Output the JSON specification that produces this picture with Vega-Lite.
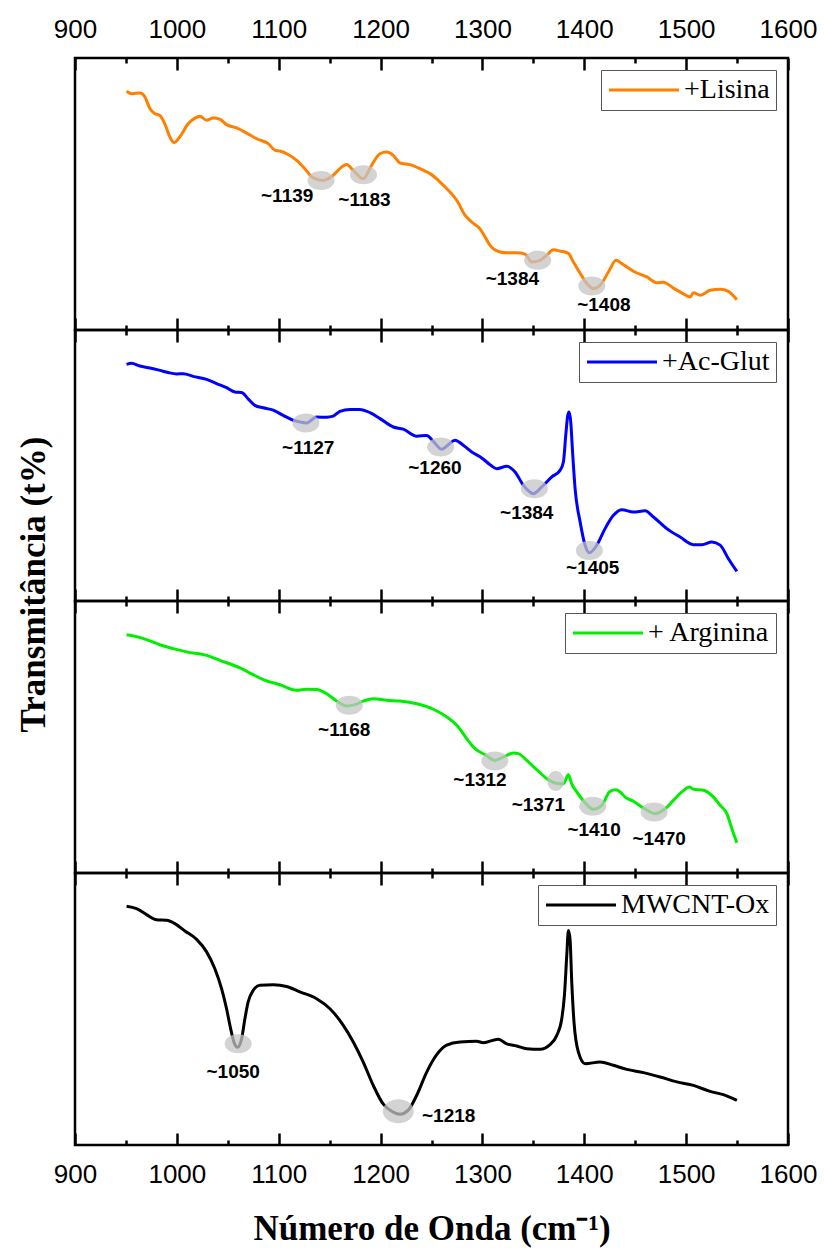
{
  "$schema": "https://vega.github.io/schema/vega-lite/v6.json",
  "background": "white",
  "padding": {"left": 14, "top": 14, "right": 5, "bottom": 5},
  "bounds": "flush",
  "datasets": {
    "lis": [
      {"s":"+Lisina","x":950.6,"y":87.8},{"s":"+Lisina","x":955.5,"y":86.9},{"s":"+Lisina","x":963.7,"y":87.1},{"s":"+Lisina","x":968.6,"y":85.7},{"s":"+Lisina","x":973.5,"y":81.4},{"s":"+Lisina","x":978.4,"y":79.5},{"s":"+Lisina","x":983.3,"y":78.9},{"s":"+Lisina","x":988.2,"y":75.8},{"s":"+Lisina","x":993.1,"y":71.0},{"s":"+Lisina","x":997.3,"y":68.9},{"s":"+Lisina","x":1002.9,"y":71.0},{"s":"+Lisina","x":1011.1,"y":75.8},{"s":"+Lisina","x":1017.7,"y":77.9},{"s":"+Lisina","x":1022.6,"y":78.6},{"s":"+Lisina","x":1029.2,"y":77.1},{"s":"+Lisina","x":1035.7,"y":77.9},{"s":"+Lisina","x":1042.2,"y":77.5},{"s":"+Lisina","x":1048.8,"y":75.5},{"s":"+Lisina","x":1058.6,"y":74.3},{"s":"+Lisina","x":1068.5,"y":72.4},{"s":"+Lisina","x":1078.3,"y":70.3},{"s":"+Lisina","x":1089.7,"y":68.5},{"s":"+Lisina","x":1096.3,"y":66.1},{"s":"+Lisina","x":1101.2,"y":65.8},{"s":"+Lisina","x":1107.8,"y":64.8},{"s":"+Lisina","x":1117.6,"y":62.4},{"s":"+Lisina","x":1125.7,"y":59.3},{"s":"+Lisina","x":1133.9,"y":55.9},{"s":"+Lisina","x":1143.7,"y":55.0},{"s":"+Lisina","x":1153.5,"y":56.9},{"s":"+Lisina","x":1161.8,"y":59.9},{"s":"+Lisina","x":1166.7,"y":60.8},{"s":"+Lisina","x":1173.2,"y":58.7},{"s":"+Lisina","x":1183.0,"y":55.6},{"s":"+Lisina","x":1191.3,"y":60.6},{"s":"+Lisina","x":1199.4,"y":64.8},{"s":"+Lisina","x":1206.0,"y":65.4},{"s":"+Lisina","x":1212.5,"y":64.2},{"s":"+Lisina","x":1219.1,"y":61.4},{"s":"+Lisina","x":1228.8,"y":60.8},{"s":"+Lisina","x":1238.7,"y":59.3},{"s":"+Lisina","x":1245.3,"y":58.1},{"s":"+Lisina","x":1248.5,"y":57.5},{"s":"+Lisina","x":1258.4,"y":54.4},{"s":"+Lisina","x":1266.5,"y":51.4},{"s":"+Lisina","x":1274.8,"y":47.7},{"s":"+Lisina","x":1282.9,"y":42.2},{"s":"+Lisina","x":1289.5,"y":39.7},{"s":"+Lisina","x":1297.6,"y":37.2},{"s":"+Lisina","x":1302.6,"y":34.2},{"s":"+Lisina","x":1307.5,"y":31.1},{"s":"+Lisina","x":1317.3,"y":28.7},{"s":"+Lisina","x":1323.9,"y":28.4},{"s":"+Lisina","x":1333.7,"y":28.4},{"s":"+Lisina","x":1341.9,"y":27.9},{"s":"+Lisina","x":1348.4,"y":25.0},{"s":"+Lisina","x":1356.6,"y":25.6},{"s":"+Lisina","x":1363.2,"y":27.5},{"s":"+Lisina","x":1369.6,"y":29.5},{"s":"+Lisina","x":1376.2,"y":29.0},{"s":"+Lisina","x":1384.4,"y":28.2},{"s":"+Lisina","x":1389.3,"y":25.0},{"s":"+Lisina","x":1397.5,"y":19.9},{"s":"+Lisina","x":1404.0,"y":16.4},{"s":"+Lisina","x":1408.9,"y":15.2},{"s":"+Lisina","x":1415.5,"y":16.4},{"s":"+Lisina","x":1423.7,"y":21.3},{"s":"+Lisina","x":1431.2,"y":25.6},{"s":"+Lisina","x":1436.8,"y":24.4},{"s":"+Lisina","x":1448.2,"y":21.6},{"s":"+Lisina","x":1461.4,"y":19.5},{"s":"+Lisina","x":1471.2,"y":17.4},{"s":"+Lisina","x":1477.7,"y":17.6},{"s":"+Lisina","x":1487.5,"y":15.4},{"s":"+Lisina","x":1497.3,"y":13.3},{"s":"+Lisina","x":1503.9,"y":12.1},{"s":"+Lisina","x":1507.2,"y":13.7},{"s":"+Lisina","x":1513.8,"y":12.8},{"s":"+Lisina","x":1523.6,"y":14.6},{"s":"+Lisina","x":1533.4,"y":15.0},{"s":"+Lisina","x":1541.5,"y":14.2},{"s":"+Lisina","x":1549.8,"y":11.1}
    ],
    "acg": [
      {"s":"+Ac-Glut","x":950.6,"y":87.3},{"s":"+Ac-Glut","x":955.5,"y":87.7},{"s":"+Ac-Glut","x":963.7,"y":86.7},{"s":"+Ac-Glut","x":973.5,"y":86.0},{"s":"+Ac-Glut","x":983.3,"y":85.1},{"s":"+Ac-Glut","x":991.5,"y":84.3},{"s":"+Ac-Glut","x":999.7,"y":83.8},{"s":"+Ac-Glut","x":1006.2,"y":83.9},{"s":"+Ac-Glut","x":1016.0,"y":82.9},{"s":"+Ac-Glut","x":1029.2,"y":81.8},{"s":"+Ac-Glut","x":1039.0,"y":80.2},{"s":"+Ac-Glut","x":1048.8,"y":78.7},{"s":"+Ac-Glut","x":1057.0,"y":77.1},{"s":"+Ac-Glut","x":1063.6,"y":76.9},{"s":"+Ac-Glut","x":1070.0,"y":74.6},{"s":"+Ac-Glut","x":1076.6,"y":72.2},{"s":"+Ac-Glut","x":1084.8,"y":71.3},{"s":"+Ac-Glut","x":1094.6,"y":70.4},{"s":"+Ac-Glut","x":1104.4,"y":68.5},{"s":"+Ac-Glut","x":1114.2,"y":66.7},{"s":"+Ac-Glut","x":1120.8,"y":66.1},{"s":"+Ac-Glut","x":1127.4,"y":65.7},{"s":"+Ac-Glut","x":1137.2,"y":67.9},{"s":"+Ac-Glut","x":1147.1,"y":67.8},{"s":"+Ac-Glut","x":1153.5,"y":68.2},{"s":"+Ac-Glut","x":1160.1,"y":70.0},{"s":"+Ac-Glut","x":1169.9,"y":70.7},{"s":"+Ac-Glut","x":1179.7,"y":70.7},{"s":"+Ac-Glut","x":1189.6,"y":69.5},{"s":"+Ac-Glut","x":1199.4,"y":67.3},{"s":"+Ac-Glut","x":1212.5,"y":64.2},{"s":"+Ac-Glut","x":1222.3,"y":63.4},{"s":"+Ac-Glut","x":1235.5,"y":60.8},{"s":"+Ac-Glut","x":1245.3,"y":61.1},{"s":"+Ac-Glut","x":1251.8,"y":58.9},{"s":"+Ac-Glut","x":1260.0,"y":56.0},{"s":"+Ac-Glut","x":1266.5,"y":57.7},{"s":"+Ac-Glut","x":1273.1,"y":59.3},{"s":"+Ac-Glut","x":1281.2,"y":57.5},{"s":"+Ac-Glut","x":1289.5,"y":55.0},{"s":"+Ac-Glut","x":1299.3,"y":52.8},{"s":"+Ac-Glut","x":1307.5,"y":50.3},{"s":"+Ac-Glut","x":1314.0,"y":48.8},{"s":"+Ac-Glut","x":1323.9,"y":49.7},{"s":"+Ac-Glut","x":1332.0,"y":47.6},{"s":"+Ac-Glut","x":1340.2,"y":42.7},{"s":"+Ac-Glut","x":1350.0,"y":39.6},{"s":"+Ac-Glut","x":1358.3,"y":42.1},{"s":"+Ac-Glut","x":1368.1,"y":45.8},{"s":"+Ac-Glut","x":1376.2,"y":48.2},{"s":"+Ac-Glut","x":1379.5,"y":51.3},{"s":"+Ac-Glut","x":1381.8,"y":61.1},{"s":"+Ac-Glut","x":1383.8,"y":68.5},{"s":"+Ac-Glut","x":1385.1,"y":69.7},{"s":"+Ac-Glut","x":1386.7,"y":66.1},{"s":"+Ac-Glut","x":1388.3,"y":56.2},{"s":"+Ac-Glut","x":1391.0,"y":41.4},{"s":"+Ac-Glut","x":1395.9,"y":29.2},{"s":"+Ac-Glut","x":1400.8,"y":20.6},{"s":"+Ac-Glut","x":1405.0,"y":17.8},{"s":"+Ac-Glut","x":1412.3,"y":20.6},{"s":"+Ac-Glut","x":1420.4,"y":26.7},{"s":"+Ac-Glut","x":1428.6,"y":31.6},{"s":"+Ac-Glut","x":1436.8,"y":33.7},{"s":"+Ac-Glut","x":1448.2,"y":32.8},{"s":"+Ac-Glut","x":1459.7,"y":33.3},{"s":"+Ac-Glut","x":1467.9,"y":31.0},{"s":"+Ac-Glut","x":1481.0,"y":26.7},{"s":"+Ac-Glut","x":1494.1,"y":23.6},{"s":"+Ac-Glut","x":1507.2,"y":20.8},{"s":"+Ac-Glut","x":1515.4,"y":20.8},{"s":"+Ac-Glut","x":1525.2,"y":21.8},{"s":"+Ac-Glut","x":1533.4,"y":20.6},{"s":"+Ac-Glut","x":1541.5,"y":15.6},{"s":"+Ac-Glut","x":1549.8,"y":10.9}
    ],
    "arg": [
      {"s":"+ Arginina","x":950.6,"y":87.6},{"s":"+ Arginina","x":960.4,"y":86.9},{"s":"+ Arginina","x":970.2,"y":85.8},{"s":"+ Arginina","x":983.3,"y":83.9},{"s":"+ Arginina","x":996.4,"y":82.5},{"s":"+ Arginina","x":1009.5,"y":81.3},{"s":"+ Arginina","x":1029.2,"y":80.0},{"s":"+ Arginina","x":1042.2,"y":78.2},{"s":"+ Arginina","x":1061.9,"y":75.4},{"s":"+ Arginina","x":1074.9,"y":72.9},{"s":"+ Arginina","x":1084.8,"y":71.1},{"s":"+ Arginina","x":1101.2,"y":69.2},{"s":"+ Arginina","x":1117.6,"y":67.2},{"s":"+ Arginina","x":1127.4,"y":67.6},{"s":"+ Arginina","x":1137.2,"y":67.5},{"s":"+ Arginina","x":1147.1,"y":65.9},{"s":"+ Arginina","x":1156.9,"y":63.2},{"s":"+ Arginina","x":1166.7,"y":61.4},{"s":"+ Arginina","x":1174.9,"y":61.9},{"s":"+ Arginina","x":1183.0,"y":63.2},{"s":"+ Arginina","x":1192.8,"y":64.1},{"s":"+ Arginina","x":1206.0,"y":63.5},{"s":"+ Arginina","x":1219.1,"y":63.2},{"s":"+ Arginina","x":1235.5,"y":62.2},{"s":"+ Arginina","x":1251.8,"y":60.2},{"s":"+ Arginina","x":1264.9,"y":57.4},{"s":"+ Arginina","x":1276.3,"y":53.7},{"s":"+ Arginina","x":1284.6,"y":49.4},{"s":"+ Arginina","x":1292.7,"y":45.7},{"s":"+ Arginina","x":1302.6,"y":43.5},{"s":"+ Arginina","x":1312.4,"y":41.4},{"s":"+ Arginina","x":1320.5,"y":42.6},{"s":"+ Arginina","x":1330.4,"y":44.1},{"s":"+ Arginina","x":1335.3,"y":43.9},{"s":"+ Arginina","x":1343.5,"y":41.4},{"s":"+ Arginina","x":1353.3,"y":38.0},{"s":"+ Arginina","x":1363.2,"y":34.7},{"s":"+ Arginina","x":1371.3,"y":33.1},{"s":"+ Arginina","x":1379.5,"y":32.8},{"s":"+ Arginina","x":1384.4,"y":36.1},{"s":"+ Arginina","x":1387.7,"y":32.8},{"s":"+ Arginina","x":1392.6,"y":29.8},{"s":"+ Arginina","x":1400.8,"y":25.8},{"s":"+ Arginina","x":1408.9,"y":23.4},{"s":"+ Arginina","x":1417.2,"y":24.9},{"s":"+ Arginina","x":1425.3,"y":30.0},{"s":"+ Arginina","x":1431.2,"y":30.6},{"s":"+ Arginina","x":1435.2,"y":29.8},{"s":"+ Arginina","x":1440.1,"y":27.9},{"s":"+ Arginina","x":1448.2,"y":26.4},{"s":"+ Arginina","x":1458.1,"y":23.9},{"s":"+ Arginina","x":1469.5,"y":21.8},{"s":"+ Arginina","x":1479.3,"y":23.6},{"s":"+ Arginina","x":1487.5,"y":26.7},{"s":"+ Arginina","x":1495.8,"y":29.8},{"s":"+ Arginina","x":1503.2,"y":31.6},{"s":"+ Arginina","x":1507.2,"y":30.8},{"s":"+ Arginina","x":1517.0,"y":30.4},{"s":"+ Arginina","x":1526.8,"y":27.9},{"s":"+ Arginina","x":1533.4,"y":24.9},{"s":"+ Arginina","x":1540.0,"y":21.8},{"s":"+ Arginina","x":1544.9,"y":16.3},{"s":"+ Arginina","x":1549.8,"y":11.1}
    ],
    "mw": [
      {"s":"MWCNT-Ox","x":950.6,"y":87.8},{"s":"MWCNT-Ox","x":960.4,"y":86.9},{"s":"MWCNT-Ox","x":970.2,"y":84.7},{"s":"MWCNT-Ox","x":980.1,"y":82.8},{"s":"MWCNT-Ox","x":989.9,"y":82.6},{"s":"MWCNT-Ox","x":998.0,"y":81.4},{"s":"MWCNT-Ox","x":1007.9,"y":78.7},{"s":"MWCNT-Ox","x":1019.4,"y":75.6},{"s":"MWCNT-Ox","x":1029.2,"y":71.0},{"s":"MWCNT-Ox","x":1037.3,"y":64.8},{"s":"MWCNT-Ox","x":1043.9,"y":57.5},{"s":"MWCNT-Ox","x":1048.8,"y":50.1},{"s":"MWCNT-Ox","x":1052.8,"y":42.8},{"s":"MWCNT-Ox","x":1056.0,"y":37.9},{"s":"MWCNT-Ox","x":1059.6,"y":35.9},{"s":"MWCNT-Ox","x":1063.6,"y":39.1},{"s":"MWCNT-Ox","x":1066.8,"y":46.4},{"s":"MWCNT-Ox","x":1070.0,"y":52.6},{"s":"MWCNT-Ox","x":1075.0,"y":56.9},{"s":"MWCNT-Ox","x":1081.5,"y":58.7},{"s":"MWCNT-Ox","x":1094.6,"y":58.9},{"s":"MWCNT-Ox","x":1107.8,"y":58.3},{"s":"MWCNT-Ox","x":1120.8,"y":56.3},{"s":"MWCNT-Ox","x":1137.2,"y":53.8},{"s":"MWCNT-Ox","x":1150.3,"y":50.1},{"s":"MWCNT-Ox","x":1163.4,"y":44.0},{"s":"MWCNT-Ox","x":1173.2,"y":37.9},{"s":"MWCNT-Ox","x":1183.0,"y":30.5},{"s":"MWCNT-Ox","x":1192.8,"y":21.9},{"s":"MWCNT-Ox","x":1202.7,"y":15.0},{"s":"MWCNT-Ox","x":1210.9,"y":12.4},{"s":"MWCNT-Ox","x":1219.1,"y":11.3},{"s":"MWCNT-Ox","x":1227.2,"y":12.8},{"s":"MWCNT-Ox","x":1235.5,"y":18.3},{"s":"MWCNT-Ox","x":1245.3,"y":26.8},{"s":"MWCNT-Ox","x":1255.1,"y":33.2},{"s":"MWCNT-Ox","x":1264.9,"y":36.7},{"s":"MWCNT-Ox","x":1278.0,"y":37.9},{"s":"MWCNT-Ox","x":1294.4,"y":38.1},{"s":"MWCNT-Ox","x":1300.9,"y":37.6},{"s":"MWCNT-Ox","x":1315.6,"y":38.9},{"s":"MWCNT-Ox","x":1323.9,"y":37.2},{"s":"MWCNT-Ox","x":1333.7,"y":36.4},{"s":"MWCNT-Ox","x":1343.5,"y":35.4},{"s":"MWCNT-Ox","x":1356.6,"y":35.2},{"s":"MWCNT-Ox","x":1366.4,"y":36.9},{"s":"MWCNT-Ox","x":1373.0,"y":40.3},{"s":"MWCNT-Ox","x":1377.9,"y":46.4},{"s":"MWCNT-Ox","x":1380.5,"y":55.0},{"s":"MWCNT-Ox","x":1382.8,"y":69.7},{"s":"MWCNT-Ox","x":1384.4,"y":78.9},{"s":"MWCNT-Ox","x":1386.0,"y":75.8},{"s":"MWCNT-Ox","x":1387.7,"y":59.9},{"s":"MWCNT-Ox","x":1389.9,"y":45.2},{"s":"MWCNT-Ox","x":1394.2,"y":34.2},{"s":"MWCNT-Ox","x":1400.8,"y":29.9},{"s":"MWCNT-Ox","x":1415.5,"y":30.5},{"s":"MWCNT-Ox","x":1428.6,"y":29.3},{"s":"MWCNT-Ox","x":1441.7,"y":27.8},{"s":"MWCNT-Ox","x":1458.1,"y":26.6},{"s":"MWCNT-Ox","x":1474.5,"y":25.0},{"s":"MWCNT-Ox","x":1490.9,"y":23.2},{"s":"MWCNT-Ox","x":1507.2,"y":21.9},{"s":"MWCNT-Ox","x":1523.6,"y":19.7},{"s":"MWCNT-Ox","x":1536.6,"y":18.5},{"s":"MWCNT-Ox","x":1549.8,"y":16.4}
    ],
    "ann": [
      {"p":"L","x":1141.6,"y":55.0,"k":"n","t":"~1139","lx":1108.3,"ly":49.3},
      {"p":"L","x":1183.2,"y":57.1,"k":"n","t":"~1183","lx":1184.2,"ly":47.9},
      {"p":"L","x":1354.3,"y":25.6,"k":"n","t":"~1384","lx":1329.4,"ly":18.9},
      {"p":"L","x":1407.4,"y":16.2,"k":"n","t":"~1408","lx":1419.2,"ly":9.3},
      {"p":"A","x":1126.7,"y":65.7,"k":"n","t":"~1127","lx":1129.0,"ly":56.5},
      {"p":"A","x":1259.0,"y":56.8,"k":"n","t":"~1260","lx":1253.4,"ly":49.1},
      {"p":"A","x":1351.0,"y":41.4,"k":"n","t":"~1384","lx":1343.5,"ly":32.5},
      {"p":"A","x":1405.0,"y":18.6,"k":"n","t":"~1405","lx":1408.3,"ly":12.2},
      {"p":"R","x":1169.3,"y":61.7,"k":"n","t":"~1168","lx":1164.3,"ly":52.7},
      {"p":"R","x":1312.2,"y":41.2,"k":"n","t":"~1312","lx":1297.6,"ly":34.3},
      {"p":"R","x":1372.0,"y":33.8,"k":"s","t":"~1371","lx":1354.9,"ly":24.9},
      {"p":"R","x":1408.3,"y":24.5,"k":"n","t":"~1410","lx":1409.6,"ly":15.9},
      {"p":"R","x":1468.6,"y":22.4,"k":"n","t":"~1470","lx":1473.5,"ly":12.6},
      {"p":"M","x":1060.2,"y":37.2,"k":"n","t":"~1050","lx":1055.3,"ly":26.8},
      {"p":"M","x":1217.4,"y":12.4,"k":"l","t":"~1218","lx":1266.9,"ly":10.7}
    ]
  },
  "vconcat": [
    {
      "width": 713, "height": 272,
      "layer": [
        {"data": {"name": "lis"}, "mark": {"type": "line", "strokeWidth": 3, "interpolate": "monotone"},
         "encoding": {
           "x": {"field": "x", "type": "quantitative", "scale": {"domain": [900, 1600], "nice": false, "zero": false}, "axis": {"orient": "bottom", "values": [900,1000,1100,1200,1300,1400,1500,1600], "tickSize": -12, "labels": false, "title": null}},
           "y": {"field": "y", "type": "quantitative", "scale": {"domain": [0, 100]}, "axis": null},
           "color": {"field": "s", "type": "nominal", "scale": {"domain": ["+Lisina"], "range": ["#FF8000"]}, "legend": {"title": null}}
         }},
        {"data": {"name": "ann"}, "transform": [{"filter": "datum.p == 'L'"}], "mark": {"type": "point", "filled": true, "color": "#C4C4C4", "opacity": 0.75, "size": 4, "strokeWidth": 0},
         "encoding": {
           "x": {"field": "x", "type": "quantitative", "scale": {"domain": [900, 1600], "nice": false, "zero": false}, "axis": {"orient": "bottom", "values": [950,1050,1150,1250,1350,1450,1550], "tickSize": -5, "labels": false, "title": null}},
           "y": {"field": "y", "type": "quantitative", "scale": {"domain": [0, 100]}, "axis": null},
           "shape": {"field": "k", "type": "nominal", "scale": {"domain": ["n","s","l"], "range": ["M-13.5,0A13.5,9.5 0 1,1 13.5,0A13.5,9.5 0 1,1 -13.5,0Z", "M-8.5,0A8.5,10 0 1,1 8.5,0A8.5,10 0 1,1 -8.5,0Z", "M-15.5,0A15.5,12 0 1,1 15.5,0A15.5,12 0 1,1 -15.5,0Z"]}, "legend": null}
         }},
        {"data": {"name": "ann"}, "transform": [{"filter": "datum.p == 'L'"}], "mark": {"type": "text", "font": "Liberation Sans", "fontWeight": "bold", "fontSize": 19, "color": "black", "align": "center", "baseline": "middle"},
         "encoding": {
           "x": {"field": "lx", "type": "quantitative", "scale": {"domain": [900, 1600], "nice": false, "zero": false}, "axis": {"orient": "top", "values": [900,1000,1100,1200,1300,1400,1500,1600], "tickSize": -12, "labels": true, "format": "d", "title": null}},
           "y": {"field": "ly", "type": "quantitative", "scale": {"domain": [0, 100]}, "axis": null},
           "text": {"field": "t"}
         }},
        {"data": {"name": "ann"}, "transform": [{"filter": "datum.p == 'L'"}], "mark": {"type": "point", "opacity": 0},
         "encoding": {
           "x": {"field": "x", "type": "quantitative", "scale": {"domain": [900, 1600], "nice": false, "zero": false}, "axis": {"orient": "top", "values": [950,1050,1150,1250,1350,1450,1550], "tickSize": -5, "labels": false, "title": null}},
           "y": {"field": "y", "type": "quantitative", "scale": {"domain": [0, 100]}, "axis": null}
         }}
      ],
      "resolve": {"axis": {"x": "independent", "y": "independent"}}
    },
    {
      "width": 713, "height": 271,
      "layer": [
        {"data": {"name": "acg"}, "mark": {"type": "line", "strokeWidth": 3, "interpolate": "monotone"},
         "encoding": {
           "x": {"field": "x", "type": "quantitative", "scale": {"domain": [900, 1600], "nice": false, "zero": false}, "axis": {"orient": "bottom", "values": [900,1000,1100,1200,1300,1400,1500,1600], "tickSize": -12, "labels": false, "title": null}},
           "y": {"field": "y", "type": "quantitative", "scale": {"domain": [0, 100]}, "axis": {"orient": "left", "domain": false, "ticks": false, "labels": false, "grid": false, "title": "Transmitância (t%)", "titleX": -42, "titleY": 254, "titleAngle": -90, "titleBaseline": "middle", "titleAlign": "center"}},
           "color": {"field": "s", "type": "nominal", "scale": {"domain": ["+Ac-Glut"], "range": ["#0000FF"]}, "legend": {"title": null}}
         }},
        {"data": {"name": "ann"}, "transform": [{"filter": "datum.p == 'A'"}], "mark": {"type": "point", "filled": true, "color": "#C4C4C4", "opacity": 0.75, "size": 4, "strokeWidth": 0},
         "encoding": {
           "x": {"field": "x", "type": "quantitative", "scale": {"domain": [900, 1600], "nice": false, "zero": false}, "axis": {"orient": "bottom", "values": [950,1050,1150,1250,1350,1450,1550], "tickSize": -5, "labels": false, "title": null}},
           "y": {"field": "y", "type": "quantitative", "scale": {"domain": [0, 100]}, "axis": null},
           "shape": {"field": "k", "type": "nominal", "scale": {"domain": ["n","s","l"], "range": ["M-13.5,0A13.5,9.5 0 1,1 13.5,0A13.5,9.5 0 1,1 -13.5,0Z", "M-8.5,0A8.5,10 0 1,1 8.5,0A8.5,10 0 1,1 -8.5,0Z", "M-15.5,0A15.5,12 0 1,1 15.5,0A15.5,12 0 1,1 -15.5,0Z"]}, "legend": null}
         }},
        {"data": {"name": "ann"}, "transform": [{"filter": "datum.p == 'A'"}], "mark": {"type": "text", "font": "Liberation Sans", "fontWeight": "bold", "fontSize": 19, "color": "black", "align": "center", "baseline": "middle"},
         "encoding": {
           "x": {"field": "lx", "type": "quantitative", "scale": {"domain": [900, 1600], "nice": false, "zero": false}, "axis": {"orient": "top", "values": [900,1000,1100,1200,1300,1400,1500,1600], "tickSize": -12, "labels": false, "title": null}},
           "y": {"field": "ly", "type": "quantitative", "scale": {"domain": [0, 100]}, "axis": null},
           "text": {"field": "t"}
         }},
        {"data": {"name": "ann"}, "transform": [{"filter": "datum.p == 'A'"}], "mark": {"type": "point", "opacity": 0},
         "encoding": {
           "x": {"field": "x", "type": "quantitative", "scale": {"domain": [900, 1600], "nice": false, "zero": false}, "axis": {"orient": "top", "values": [950,1050,1150,1250,1350,1450,1550], "tickSize": -5, "labels": false, "title": null}},
           "y": {"field": "y", "type": "quantitative", "scale": {"domain": [0, 100]}, "axis": null}
         }}
      ],
      "resolve": {"axis": {"x": "independent", "y": "independent"}}
    },
    {
      "width": 713, "height": 272,
      "layer": [
        {"data": {"name": "arg"}, "mark": {"type": "line", "strokeWidth": 3, "interpolate": "monotone"},
         "encoding": {
           "x": {"field": "x", "type": "quantitative", "scale": {"domain": [900, 1600], "nice": false, "zero": false}, "axis": {"orient": "bottom", "values": [900,1000,1100,1200,1300,1400,1500,1600], "tickSize": -12, "labels": false, "title": null}},
           "y": {"field": "y", "type": "quantitative", "scale": {"domain": [0, 100]}, "axis": null},
           "color": {"field": "s", "type": "nominal", "scale": {"domain": ["+ Arginina"], "range": ["#00EE00"]}, "legend": {"title": null}}
         }},
        {"data": {"name": "ann"}, "transform": [{"filter": "datum.p == 'R'"}], "mark": {"type": "point", "filled": true, "color": "#C4C4C4", "opacity": 0.75, "size": 4, "strokeWidth": 0},
         "encoding": {
           "x": {"field": "x", "type": "quantitative", "scale": {"domain": [900, 1600], "nice": false, "zero": false}, "axis": {"orient": "bottom", "values": [950,1050,1150,1250,1350,1450,1550], "tickSize": -5, "labels": false, "title": null}},
           "y": {"field": "y", "type": "quantitative", "scale": {"domain": [0, 100]}, "axis": null},
           "shape": {"field": "k", "type": "nominal", "scale": {"domain": ["n","s","l"], "range": ["M-13.5,0A13.5,9.5 0 1,1 13.5,0A13.5,9.5 0 1,1 -13.5,0Z", "M-8.5,0A8.5,10 0 1,1 8.5,0A8.5,10 0 1,1 -8.5,0Z", "M-15.5,0A15.5,12 0 1,1 15.5,0A15.5,12 0 1,1 -15.5,0Z"]}, "legend": null}
         }},
        {"data": {"name": "ann"}, "transform": [{"filter": "datum.p == 'R'"}], "mark": {"type": "text", "font": "Liberation Sans", "fontWeight": "bold", "fontSize": 19, "color": "black", "align": "center", "baseline": "middle"},
         "encoding": {
           "x": {"field": "lx", "type": "quantitative", "scale": {"domain": [900, 1600], "nice": false, "zero": false}, "axis": {"orient": "top", "values": [900,1000,1100,1200,1300,1400,1500,1600], "tickSize": -12, "labels": false, "title": null}},
           "y": {"field": "ly", "type": "quantitative", "scale": {"domain": [0, 100]}, "axis": null},
           "text": {"field": "t"}
         }},
        {"data": {"name": "ann"}, "transform": [{"filter": "datum.p == 'R'"}], "mark": {"type": "point", "opacity": 0},
         "encoding": {
           "x": {"field": "x", "type": "quantitative", "scale": {"domain": [900, 1600], "nice": false, "zero": false}, "axis": {"orient": "top", "values": [950,1050,1150,1250,1350,1450,1550], "tickSize": -5, "labels": false, "title": null}},
           "y": {"field": "y", "type": "quantitative", "scale": {"domain": [0, 100]}, "axis": null}
         }}
      ],
      "resolve": {"axis": {"x": "independent", "y": "independent"}}
    },
    {
      "width": 713, "height": 272,
      "layer": [
        {"data": {"name": "mw"}, "mark": {"type": "line", "strokeWidth": 3, "interpolate": "monotone"},
         "encoding": {
           "x": {"field": "x", "type": "quantitative", "scale": {"domain": [900, 1600], "nice": false, "zero": false}, "axis": {"orient": "bottom", "values": [900,1000,1100,1200,1300,1400,1500,1600], "tickSize": -12, "labels": true, "format": "d", "title": "Número de Onda (cm⁻¹)", "titlePadding": 24}},
           "y": {"field": "y", "type": "quantitative", "scale": {"domain": [0, 100]}, "axis": null},
           "color": {"field": "s", "type": "nominal", "scale": {"domain": ["MWCNT-Ox"], "range": ["#000000"]}, "legend": {"title": null}}
         }},
        {"data": {"name": "ann"}, "transform": [{"filter": "datum.p == 'M'"}], "mark": {"type": "point", "filled": true, "color": "#C4C4C4", "opacity": 0.75, "size": 4, "strokeWidth": 0},
         "encoding": {
           "x": {"field": "x", "type": "quantitative", "scale": {"domain": [900, 1600], "nice": false, "zero": false}, "axis": {"orient": "bottom", "values": [950,1050,1150,1250,1350,1450,1550], "tickSize": -5, "labels": false, "title": null}},
           "y": {"field": "y", "type": "quantitative", "scale": {"domain": [0, 100]}, "axis": null},
           "shape": {"field": "k", "type": "nominal", "scale": {"domain": ["n","s","l"], "range": ["M-13.5,0A13.5,9.5 0 1,1 13.5,0A13.5,9.5 0 1,1 -13.5,0Z", "M-8.5,0A8.5,10 0 1,1 8.5,0A8.5,10 0 1,1 -8.5,0Z", "M-15.5,0A15.5,12 0 1,1 15.5,0A15.5,12 0 1,1 -15.5,0Z"]}, "legend": null}
         }},
        {"data": {"name": "ann"}, "transform": [{"filter": "datum.p == 'M'"}], "mark": {"type": "text", "font": "Liberation Sans", "fontWeight": "bold", "fontSize": 19, "color": "black", "align": "center", "baseline": "middle"},
         "encoding": {
           "x": {"field": "lx", "type": "quantitative", "scale": {"domain": [900, 1600], "nice": false, "zero": false}, "axis": {"orient": "top", "values": [900,1000,1100,1200,1300,1400,1500,1600], "tickSize": -12, "labels": false, "title": null}},
           "y": {"field": "ly", "type": "quantitative", "scale": {"domain": [0, 100]}, "axis": null},
           "text": {"field": "t"}
         }},
        {"data": {"name": "ann"}, "transform": [{"filter": "datum.p == 'M'"}], "mark": {"type": "point", "opacity": 0},
         "encoding": {
           "x": {"field": "x", "type": "quantitative", "scale": {"domain": [900, 1600], "nice": false, "zero": false}, "axis": {"orient": "top", "values": [950,1050,1150,1250,1350,1450,1550], "tickSize": -5, "labels": false, "title": null}},
           "y": {"field": "y", "type": "quantitative", "scale": {"domain": [0, 100]}, "axis": null}
         }}
      ],
      "resolve": {"axis": {"x": "independent", "y": "independent"}}
    }
  ],
  "spacing": 0,
  "resolve": {"scale": {"color": "independent"}, "legend": {"color": "independent"}},
  "config": {
    "view": {"stroke": "black", "strokeWidth": 2.5},
    "concat": {"spacing": 0},
    "axis": {"domain": false, "grid": false, "tickColor": "black", "tickWidth": 2.5, "labelFont": "Liberation Sans", "labelFontSize": 26, "labelColor": "black", "labelPadding": 28, "labelFlush": false, "labelOverlap": false, "titleFont": "Liberation Serif", "titleFontSize": 35, "titleFontWeight": "bold", "titleColor": "black"},
    "legend": {"orient": "top-right", "offset": 12, "strokeColor": "#555555", "fillColor": "white", "padding": 6, "symbolType": "M-3,0L3,0", "symbolSize": 544, "symbolOffset": 23, "symbolStrokeWidth": 3, "labelFont": "Liberation Serif", "labelFontSize": 28, "labelColor": "black", "labelLimit": 400, "labelOffset": 26}
  }
}
